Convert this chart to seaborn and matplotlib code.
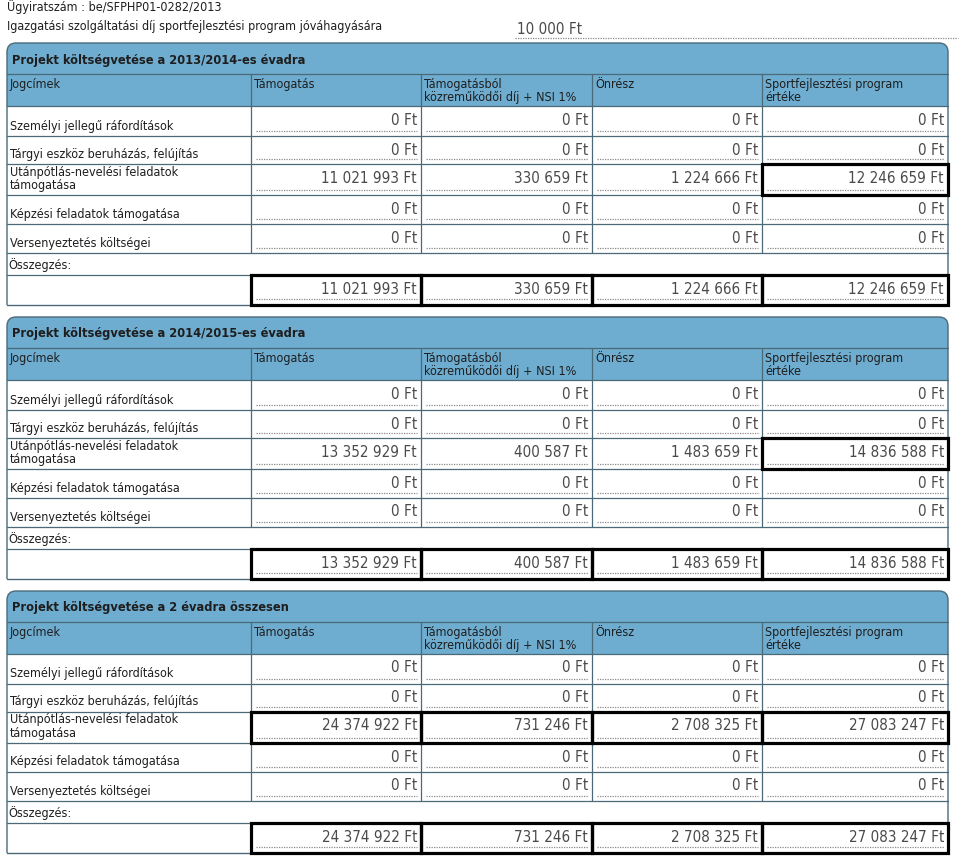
import matplotlib
matplotlib.use("Agg")
import matplotlib.pyplot as plt
import seaborn as sns
from matplotlib import font_manager
from matplotlib.path import Path
from matplotlib.patches import PathPatch, Rectangle

# ---------------- data ----------------
doc_id = "Ügyiratszám : be/SFPHP01-0282/2013"
fee_label = "Igazgatási szolgáltatási díj sportfejlesztési program jóváhagyására"
fee_value = 10000

section_titles = [
    "Projekt költségvetése a 2013/2014-es évadra",
    "Projekt költségvetése a 2014/2015-es évadra",
    "Projekt költségvetése a 2 évadra összesen",
]
column_headers = ["Jogcímek", "Támogatás", "Támogatásból\nközreműködői díj + NSI 1%",
                  "Önrész", "Sportfejlesztési program\nértéke"]
categories = ["Személyi jellegű ráfordítások",
              "Tárgyi eszköz beruházás, felújítás",
              "Utánpótlás-nevelési feladatok\ntámogatása",
              "Képzési feladatok támogatása",
              "Versenyeztetés költségei"]
summary_label = "Összegzés:"

# values per section: columns Támogatás, Közreműködői díj, Önrész, Program értéke
tamogatas_1 = [0, 0, 11021993, 0, 0]
kozrem_1 = [0, 0, 330659, 0, 0]
onresz_1 = [0, 0, 1224666, 0, 0]
ertek_1 = [0, 0, 12246659, 0, 0]

tamogatas_2 = [0, 0, 13352929, 0, 0]
kozrem_2 = [0, 0, 400587, 0, 0]
onresz_2 = [0, 0, 1483659, 0, 0]
ertek_2 = [0, 0, 14836588, 0, 0]

tamogatas_3 = [0, 0, 24374922, 0, 0]
kozrem_3 = [0, 0, 731246, 0, 0]
onresz_3 = [0, 0, 2708325, 0, 0]
ertek_3 = [0, 0, 27083247, 0, 0]

sections = [
    [tamogatas_1, kozrem_1, onresz_1, ertek_1],
    [tamogatas_2, kozrem_2, onresz_2, ertek_2],
    [tamogatas_3, kozrem_3, onresz_3, ertek_3],
]
# highlighted (thick-framed) cells: (row index, column index 1..4)
highlight = [
    [(2, 4)],
    [(2, 4)],
    [(2, 1), (2, 2), (2, 3), (2, 4)],
]

# ---------------- style ----------------
sns.set_theme(style="white")
plt.rcParams['font.family'] = ['DejaVu Sans']

has_condensed = any(f.name == "DejaVu Sans" and f.stretch in ("condensed", "semi-condensed", 75, 87)
                    or "Condensed" in f.fname and "DejaVuSans" in f.fname
                    for f in font_manager.fontManager.ttflist)
if has_condensed:
    LBL, TTL, VAL, STRETCH = 9.0, 9.2, 10.9, "condensed"
else:
    LBL, TTL, VAL, STRETCH = 8.1, 8.3, 9.8, "normal"

BLUE = "#6fadd0"
BORDER = "#4a6a78"
LABEL_C = "#1e1e1e"
VALUE_C = "#4a4a4a"
DOT_C = "#8a8a8a"

W, H = 960, 857
fig = plt.figure(figsize=(W / 100, H / 100), dpi=100)
ax = fig.add_axes([0, 0, 1, 1])
ax.set_xlim(0, W)
ax.set_ylim(H, 0)
ax.axis("off")


def fmt(v):
    return f"{v:,}".replace(",", " ") + " Ft"


def rounded_top(x0, y0, x1, y1, r):
    verts = [(x0, y1), (x0, y0 + r), (x0, y0), (x0 + r, y0),
             (x1 - r, y0), (x1, y0), (x1, y0 + r), (x1, y1)]
    codes = [Path.MOVETO, Path.LINETO, Path.CURVE3, Path.CURVE3,
             Path.LINETO, Path.CURVE3, Path.CURVE3, Path.LINETO]
    return Path(verts, codes)


lbl_kw = dict(fontsize=LBL, color=LABEL_C, fontstretch=STRETCH)
val_kw = dict(fontsize=VAL, color=VALUE_C, fontstretch=STRETCH)

# header lines
ax.text(7, 7, doc_id, va="center", ha="left", **lbl_kw)
ax.text(7, 26, fee_label, va="center", ha="left", **lbl_kw)
ax.text(517, 29, fmt(fee_value), va="center", ha="left", **val_kw)
ax.plot([515, 958], [37.5, 37.5], color=DOT_C, lw=0.9, ls=(0, (1, 1)))

col_edges = [7, 251, 421, 592, 762, 948]
row_h = [30, 28, 31, 29, 29]
TITLE_H, COLH_H, SUMLBL_H, SUM_H = 31, 32, 22, 30
SEC_STEP = 274
TOP0 = 43

for s, (title, vals) in enumerate(zip(section_titles, sections)):
    top = TOP0 + s * SEC_STEP
    y_title_end = top + TITLE_H
    y_colh_end = y_title_end + COLH_H
    row_tops = [y_colh_end]
    for h in row_h:
        row_tops.append(row_tops[-1] + h)
    y_rows_end = row_tops[-1]
    y_sumlbl_end = y_rows_end + SUMLBL_H
    y_end = y_sumlbl_end + SUM_H
    x0, x1 = col_edges[0], col_edges[-1]

    ax.add_patch(PathPatch(rounded_top(x0, top, x1, y_colh_end, 9),
                           facecolor=BLUE, edgecolor="none", zorder=1))
    ax.add_patch(PathPatch(rounded_top(x0, top, x1, y_end, 9),
                           facecolor="none", edgecolor=BORDER, lw=1.0, zorder=3))

    # horizontal rules
    for y in [y_title_end, y_colh_end] + row_tops[1:] + [y_sumlbl_end]:
        ax.plot([x0, x1], [y, y], color=BORDER, lw=0.9, zorder=2)
    ax.plot([x0, x1], [y_end, y_end], color=BORDER, lw=1.0, zorder=3)
    # vertical dividers
    for xe in col_edges[1:-1]:
        ax.plot([xe, xe], [y_title_end, y_rows_end], color=BORDER, lw=0.9, zorder=2)
        ax.plot([xe, xe], [y_sumlbl_end, y_end], color=BORDER, lw=0.9, zorder=2)

    ax.text(12, top + 17, title, fontsize=TTL, fontweight="bold", color=LABEL_C,
            fontstretch=STRETCH, va="center", ha="left")
    for c, hdr in enumerate(column_headers):
        ax.text(col_edges[c] + 3, y_title_end + 4, hdr, va="top", ha="left",
                linespacing=1.0, **lbl_kw)

    # data rows
    for r, cat in enumerate(categories):
        rt, rb = row_tops[r], row_tops[r + 1]
        ax.text(col_edges[0] + 3, rb - 3.5, cat, va="bottom", ha="left",
                linespacing=1.0, **lbl_kw)
        for c in range(4):
            xl, xr = col_edges[c + 1], col_edges[c + 2]
            ax.text(xr - 4, rt + 14, fmt(vals[c][r]), va="center", ha="right", **val_kw)
            ax.plot([xl + 5, xr - 4], [rb - 5, rb - 5], color=DOT_C, lw=0.9,
                    ls=(0, (1, 1)), zorder=2)
            if (r, c + 1) in highlight[s]:
                ax.add_patch(Rectangle((xl, rt), xr - xl, rb - rt, fill=False,
                                       edgecolor="black", lw=2.3, zorder=4))

    # summary
    ax.text(x0 + 1, y_rows_end + 12, summary_label, va="center", ha="left", **lbl_kw)
    for c in range(4):
        xl, xr = col_edges[c + 1], col_edges[c + 2]
        total = sum(vals[c])
        ax.text(xr - 4, y_sumlbl_end + 15, fmt(total), va="center", ha="right", **val_kw)
        ax.plot([xl + 5, xr - 4], [y_end - 6, y_end - 6], color=DOT_C, lw=0.9,
                ls=(0, (1, 1)), zorder=2)
        ax.add_patch(Rectangle((xl, y_sumlbl_end), xr - xl, y_end - y_sumlbl_end,
                               fill=False, edgecolor="black", lw=2.3, zorder=4))

fig.savefig("out.png", dpi=100)
